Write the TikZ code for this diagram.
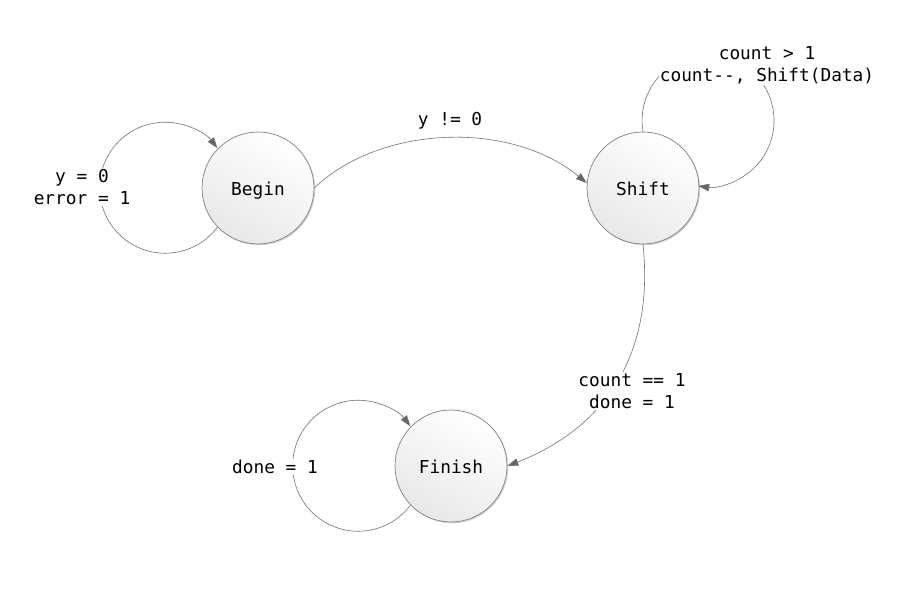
\documentclass[tikz,border=0pt]{standalone}
\usepackage{fontspec}
\setmonofont{DejaVu Sans Mono}
\usetikzlibrary{arrows.meta,shadows}
\tikzset{
  state/.style={circle, minimum size=112pt, inner sep=0pt, draw=black!50, line width=0.7pt,
    top color=white, bottom color=black!9, shading angle=-30,
    drop shadow={shadow xshift=1.2pt, shadow yshift=-1.2pt, opacity=0.18, fill=black}},
  txt/.style={font=\ttfamily\fontsize{17.8}{22}\selectfont, align=center, inner sep=1pt},
  lbl/.style={txt, fill=white},
  conn/.style={draw=black!55, line width=0.6pt, -{Triangle[length=11pt,width=7.5pt,fill=black!60]}, color=black!55}
}
\begin{document}
\begin{tikzpicture}[x=1pt,y=1pt]
\useasboundingbox (0,0) rectangle (907,-610);
\fill[white] (0,0) rectangle (907,-610);

\node[state] (b) at (258,-188) {};
\node[state] (s) at (643,-188) {};
\node[state] (f) at (451,-466) {};
\node[txt, anchor=base] (tb) at (258,-195) {Begin};
\node[txt, anchor=base] (ts) at (643,-195) {Shift};
\node[txt, anchor=base] (tf) at (451,-473) {Finish};

% Begin self loop
\draw[conn] (b.224) arc[start angle=-37, end angle=-323, radius=65.5];
\node[lbl] (lb) at (82,-187) {y = 0\\error = 1};

% Begin -> Shift
\draw[conn] (b.0) .. controls (380,-125) and (510,-120) .. (s.175);
\node[txt] (lbs) at (450,-121) {y != 0};

% Shift self loop
\draw[conn] (s.90) arc[start angle=189.6, end angle=-98.6, radius=66];
\node[lbl] (ls) at (767,-65) {count > 1\\count--, Shift(Data)};

% Shift -> Finish
\draw[conn] (s.270) .. controls (655,-360) and (600,-430) .. (f.0);
\node[lbl] (lsf) at (632,-391) {count == 1\\done = 1};

% Finish self loop
\draw[conn] (f.224) arc[start angle=-37, end angle=-323, radius=65.5];
\node[lbl] (lf) at (275,-467) {done = 1};
\end{tikzpicture}
\end{document}
